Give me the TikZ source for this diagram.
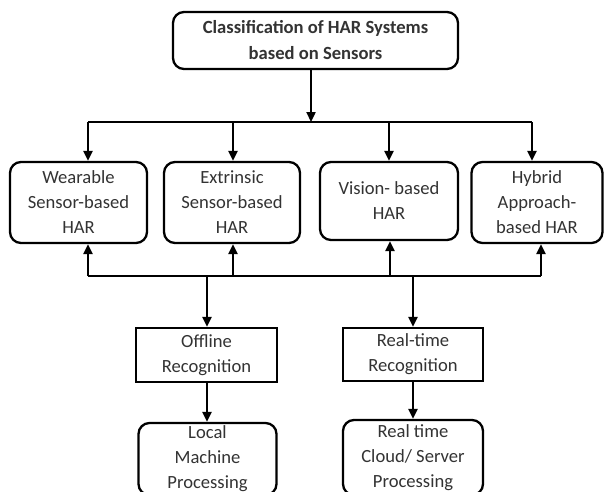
\documentclass[tikz,border=0pt]{standalone}
\usepackage{fontspec}
\setmainfont{Carlito}
\usetikzlibrary{arrows.meta}
\definecolor{txt}{HTML}{333333}
\begin{document}
\begin{tikzpicture}[x=1pt,y=-1pt,
  every node/.style={font=\fontsize{18.6}{25}\selectfont, text=txt, align=center, inner sep=0pt},
  rbox/.style={draw=black, line width=2.3pt, rounded corners=11pt, minimum width=#1},
  sbox/.style={draw=black, line width=2.3pt, minimum width=#1},
  conn/.style={line width=2.3pt, draw=black},
  arr/.style={conn, -{Triangle[length=10pt,width=9pt]}}]
\useasboundingbox (0,0) rectangle (604,491);
\clip (0,0) rectangle (604,491);
\fill[white] (0,0) rectangle (604,491);
% top
\node[rbox=285pt, minimum height=57pt, font=\fontsize{18.6}{26}\selectfont\bfseries] (top) at (315.5,40.5) {Classification of HAR Systems\\based on Sensors};
% row
\node[rbox=137pt, minimum height=81pt] (w) at (78.5,202.5) {Wearable\\Sensor-based\\HAR};
\node[rbox=136pt, minimum height=81pt] (e) at (232,202.5) {Extrinsic\\Sensor-based\\HAR};
\node[rbox=138pt, minimum height=78pt] (v) at (389,201) {Vision- based\\HAR};
\node[rbox=131pt, minimum height=81pt] (h) at (537,202.5) {Hybrid\\Approach-\\based HAR};
% recognition
\node[sbox=141pt, minimum height=54pt] (off) at (206.5,355) {Offline\\Recognition};
\node[sbox=140pt, minimum height=53pt] (rt) at (413,354.5) {Real-time\\Recognition};
% processing
\node[rbox=138pt, minimum height=72pt] (loc) at (207.5,459) {Local\\Machine\\Processing};
\node[rbox=140pt, minimum height=75pt] (cl) at (413,457.5) {Real time\\Cloud/ Server\\Processing};
% upper bus
\coordinate (j) at (311,122);
\coordinate (b1) at (88,122);
\coordinate (b2) at (233,122);
\coordinate (b3) at (389,122);
\coordinate (b4) at (532,122);
\draw[arr] (top.south -| j) -- (j);
\draw[conn] (b1) -- (b4);
\draw[arr] (b1) -- (b1 |- w.north);
\draw[arr] (b2) -- (b2 |- e.north);
\draw[arr] (b3) -- (b3 |- v.north);
\draw[arr] (b4) -- (b4 |- h.north);
% lower bus
\coordinate (c1) at (88,276);
\coordinate (c2) at (233,276);
\coordinate (c3) at (390,276);
\coordinate (c4) at (541,276);
\coordinate (d1) at (207,276);
\coordinate (d2) at (413,276);
\draw[conn] (c1) -- (c4);
\draw[arr] (c1) -- (c1 |- w.south);
\draw[arr] (c2) -- (c2 |- e.south);
\draw[arr] (c3) -- (c3 |- v.south);
\draw[arr] (c4) -- (c4 |- h.south);
\draw[arr] (d1) -- (d1 |- off.north);
\draw[arr] (d2) -- (d2 |- rt.north);
\draw[arr] (off.south -| d1) -- (d1 |- loc.north);
\draw[arr] (rt.south -| d2) -- (d2 |- cl.north);
\end{tikzpicture}
\end{document}
